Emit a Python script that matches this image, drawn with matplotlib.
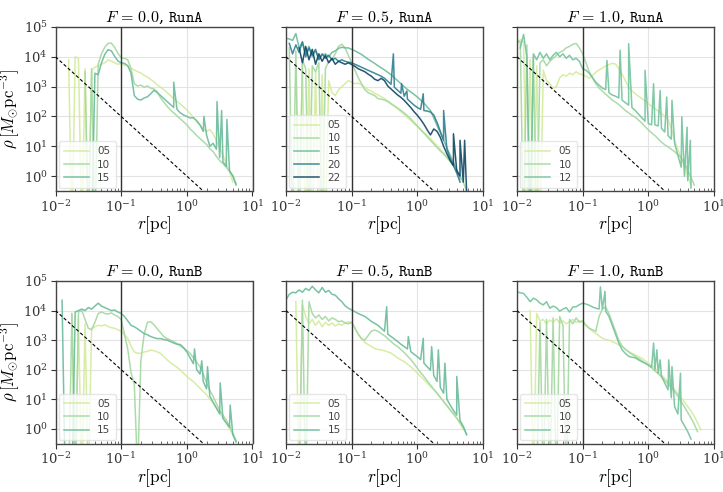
import numpy as np
import matplotlib
matplotlib.use('Agg')
import matplotlib.pyplot as plt
from matplotlib.ticker import LogLocator, NullLocator, NullFormatter

nan = float('nan')

# log10(r / pc) sampling grid
LOGR = [-2.00, -1.95, -1.90, -1.85, -1.80, -1.75, -1.70, -1.65, -1.60, -1.55,
        -1.50, -1.45, -1.40, -1.35, -1.30, -1.25, -1.20, -1.15, -1.10, -1.05,
        -1.00, -0.95, -0.90, -0.85, -0.80, -0.75, -0.70, -0.65, -0.60, -0.55,
        -0.50, -0.45, -0.40, -0.35, -0.30, -0.25, -0.20, -0.15, -0.10, -0.05,
        0.00, 0.05, 0.10, 0.15, 0.20, 0.25, 0.30, 0.35, 0.40, 0.45,
        0.50, 0.55, 0.60, 0.65, 0.70, 0.75, 0.80]

# log10(rho) profiles
A0_05 = [nan, nan, nan, nan, 3.9, -2, 4.0, 3.95, -2, 3.6,
         -2, 3.55, 3.65, 3.7, 3.75, 3.8, 3.9, 3.85, 3.8, 3.75,
         3.78, 3.72, 3.7, 3.62, 3.56, 3.5, 3.46, 3.38, 3.32, 3.24,
         3.16, 3.06, 2.98, 2.9, 2.8, 2.7, 2.6, 2.5, 2.42, 2.32,
         2.22, 2.1, 1.96, 1.82, 1.7, 1.58, 1.5, 1.56, 1.42, 1.18,
         0.95, 0.7, 0.42, 0.15, -0.2, nan, nan]
A0_10 = [nan, nan, nan, nan, nan, nan, nan, nan, nan, 3.5,
         -2, 3.6, -2, 3.75, 4.1, 4.32, 4.45, 4.46, 4.32, 4.12,
         3.97, 3.95, 3.9, 3.6, 3.1, 3.02, 3.05, 2.98, 3.02, 2.95,
         2.92, 2.82, 2.62, 2.48, 2.34, 2.22, 2.12, 2.02, 1.92, 1.82,
         1.72, 1.58, 1.48, 1.36, 1.26, 1.16, 1.06, 0.92, 0.82, 0.66,
         0.52, 0.42, 0.3, 0.16, 0.02, -0.25, nan]
A0_15 = [nan, nan, nan, nan, nan, nan, nan, nan, nan, nan,
         nan, -2, 3.45, 3.4, 3.8, 4.08, 4.24, 4.2, 4.02, 3.86,
         3.8, 3.78, 3.7, 3.45, 2.7, 2.58, 2.55, 2.62, 2.66, 2.76,
         2.88, 2.8, 2.7, 2.6, 2.5, 2.4, 2.3, 2.24, 2.12, 2.05,
         2.0, 1.95, 1.96, 1.86, 1.72, 1.5, 1.38, 1.0, 1.1, 0.9,
         0.62, 0.48, 0.32, 0.18, 0.0, -0.3, nan]

A1_05 = [nan, nan, nan, 3.7, -2, 3.75, -2, 3.6, -2, 3.5,
         -2, 3.4, -2, 3.2, 2.8, 2.7, 2.9, 3.0, 3.1, 3.2,
         3.15, 3.1, 3.12, 3.05, 2.98, 2.9, 2.85, 2.78, 2.72, 2.66,
         2.6, 2.52, 2.44, 2.36, 2.26, 2.16, 2.06, 1.96, 1.86, 1.76,
         1.66, 1.56, 1.46, 1.36, 1.26, 1.14, 1.02, 0.9, 0.78, 0.64,
         0.5, 0.35, 0.2, 0.02, -0.2, nan, nan]
A1_10 = [nan, 4.3, -2, 4.2, -2, 3.9, 3.6, -2, 3.7, 3.5,
         3.8, -2, 3.6, 3.85, 3.9, 4.1, 4.35, 4.42, 4.3, 4.05,
         3.8, 3.55, 3.3, 3.1, 2.9, 2.8, 2.75, 2.7, 2.6, 2.58,
         2.55, 2.5, 2.42, 2.35, 2.28, 2.2, 2.12, 2.02, 1.92, 1.8,
         1.68, 1.56, 1.44, 1.32, 1.2, 1.08, 0.96, 0.84, 0.74, 0.62,
         0.5, 0.35, 0.2, 0.0, -0.2, -0.5, nan]
A1_15 = [4.62, 4.6, 4.55, 4.78, 4.3, 4.5, 4.1, 4.35, 4.0, 4.2,
         3.95, 4.05, 4.1, 4.0, 4.15, 4.2, 4.28, 4.32, 4.3, 4.3,
         4.25, 4.2, 4.14, 4.08, 4.0, 3.92, 3.85, 3.78, 3.7, 3.63,
         3.56, 3.48, 3.4, 3.3, 3.2, 3.1, 3.0, 2.9, 2.82, 2.74,
         2.65, 2.55, 2.45, 2.32, 2.2, 1.95, 1.7, 1.45, 1.2, 0.95,
         0.7, 0.45, 0.2, -0.1, nan, nan, nan]
A1_20 = [nan, 4.45, 4.1, 4.4, 4.15, 4.5, 4.0, 4.3, 4.05, 4.25,
         3.9, 4.1, 3.95, 4.05, 3.9, 3.95, 3.85, 3.9, 3.85, 3.82,
         3.8, 3.75, 3.7, 3.65, 3.6, 3.55, 3.5, 3.45, 3.4, 3.35,
         3.28, 3.18, 3.08, 2.98, 2.88, 2.78, 2.68, 2.58, 2.48, 2.38,
         2.3, 2.24, 2.2, 2.18, 2.15, 2.05, 1.8, 1.5, 1.2, 0.9,
         0.6, 0.35, 0.1, -0.2, nan, nan, nan]
A1_22 = [nan, nan, nan, nan, 4.3, 3.8, 4.35, 3.9, 4.25, 3.75,
         4.1, 3.85, 4.05, 3.8, 3.95, 3.75, 3.85, 3.8, 3.75, 3.8,
         3.74, 3.68, 3.6, 3.55, 3.5, 3.42, 3.35, 3.25, 3.2, 3.28,
         3.2, 3.02, 2.92, 2.82, 2.72, 2.64, 2.54, 2.42, 2.3, 2.16,
         2.04, 1.9, 1.74, 1.55, 1.38, 1.58, 1.5, 1.3, 1.0, 0.75,
         0.52, 0.35, 0.18, 0.0, -0.2, -0.5, nan]

A2_05 = [4.4, 4.58, 4.5, -2, 3.9, -2, 3.7, -2, 3.55, 3.2,
         3.1, 2.95, 3.0, 3.3, 3.4, 3.35, 3.45, 3.4, 3.5, 3.42,
         3.4, 3.35, 3.28, 3.38, 3.48, 3.56, 3.62, 3.7, 3.74, 3.78,
         3.76, 3.6, 3.42, 3.2, 2.98, 2.86, 2.76, 2.68, 2.6, 2.52,
         2.44, 2.34, 2.26, 2.18, 2.1, 2.0, 1.9, 1.6, 1.2, 0.9,
         0.6, 0.3, 0.0, -0.3, nan, nan, nan]
A2_10 = [4.55, 4.5, -2, 4.4, -2, 4.0, -2, 3.8, 3.9, 3.7,
         3.85, 3.95, 4.05, 4.15, 4.2, 4.3, 4.35, 4.42, 4.45, 4.3,
         4.1, 3.8, 3.5, 3.3, 3.1, 2.95, 2.85, 2.75, 2.65, 2.55,
         2.48, 2.4, 2.3, 2.2, 2.12, 2.04, 1.98, 1.88, 1.78, 1.66,
         1.55, 1.45, 1.36, 1.25, 1.14, 1.05, 0.98, 0.9, 0.82, 0.72,
         0.62, 0.42, 0.2, -0.05, -0.3, nan, nan]
A2_12 = [nan, 4.3, 4.75, 4.0, -2, 4.1, 3.9, 4.15, 3.95, 4.1,
         3.9, 4.05, 4.15, 4.0, 4.1, 3.95, 4.05, 3.9, 3.95, 3.85,
         3.6, 3.55, 3.45, 3.3, 3.15, 3.05, 2.95, 2.9, 2.8, 2.72,
         2.68, 2.62, 2.55, 2.46, 2.38, 2.3, 2.2, 2.08, 1.96, 1.84,
         1.76, 1.72, 1.72, 1.68, 1.6, 1.48, 1.36, 1.24, 1.1, 0.7,
         0.3, 0.0, -0.15, -0.4, nan, nan, nan]

B0_05 = [nan, nan, nan, nan, nan, 3.9, -2, 3.7, -2, 3.55,
         -2, 3.4, 3.45, 3.5, 3.48, 3.52, 3.46, 3.42, 3.4, 3.35,
         3.3, 3.18, 3.06, 2.8, 2.6, 2.55, 2.56, 2.6, 2.62, 2.66,
         2.64, 2.6, 2.55, 2.44, 2.33, 2.24, 2.16, 2.08, 1.99, 1.88,
         1.77, 1.68, 1.6, 1.48, 1.37, 1.26, 1.15, 1.0, 0.87, 0.7,
         0.53, 0.36, 0.19, 0.0, -0.2, nan, nan]
B0_10 = [nan, nan, nan, nan, -2, 3.9, -2, 3.95, 4.0, 3.7,
         3.4, 3.35, 3.6, 3.9, 3.95, 3.9, 3.88, 3.92, 3.85, 3.8,
         3.7, 3.2, 2.7, 1.9, 1.5, -1.5, 2.3, 3.2, 3.6, 3.62,
         3.52, 3.38, 3.25, 3.12, 3.05, 3.0, 2.95, 2.88, 2.8, 2.72,
         2.65, 2.55, 2.4, 2.25, 2.1, 1.85, 1.55, 1.3, 1.1, 0.85,
         0.62, 0.45, 0.3, 0.1, -0.15, -0.4, nan]
B0_15 = [nan, nan, 4.35, -2, nan, -2, 3.95, 4.0, 4.05, 4.0,
         4.1, 4.05, 4.15, 4.25, 4.15, 4.1, 4.05, 4.0, 4.02, 3.95,
         3.9, 3.8, 3.65, 3.5, 3.45, 3.38, 3.3, 3.22, 3.18, 3.12,
         3.08, 3.05, 3.05, 3.02, 3.0, 2.95, 2.9, 2.86, 2.85, 2.75,
         2.6, 2.4, 2.2, 2.0, 1.85, 1.6, 1.35, 1.1, 0.9, 0.7,
         0.5, 0.35, 0.2, 0.05, -0.2, -0.45, nan]

B1_05 = [nan, nan, nan, 4.3, -2, 4.2, 3.8, 3.55, 3.7, 3.5,
         3.65, 3.45, 3.6, 3.5, 3.58, 3.48, 3.55, 3.5, 3.58, 3.62,
         3.6, 3.4, 3.2, 3.05, 2.92, 2.85, 2.78, 2.72, 2.68, 2.67,
         2.64, 2.6, 2.56, 2.48, 2.4, 2.33, 2.27, 2.18, 2.1, 1.99,
         1.88, 1.77, 1.66, 1.55, 1.43, 1.32, 1.2, 1.06, 0.92, 0.78,
         0.64, 0.5, 0.36, 0.18, -0.03, nan, nan]
B1_10 = [nan, nan, nan, nan, -2, 4.35, -2, 4.3, 3.9, 3.75,
         3.85, 3.7, 3.8, 3.65, 3.75, 3.7, 3.62, 3.65, 3.58, 3.55,
         3.6, 3.4, 3.2, 3.05, 3.0, 3.15, 3.3, 3.34, 3.3, 3.22,
         3.15, 3.05, 2.95, 2.85, 2.78, 2.68, 2.58, 2.46, 2.34, 2.2,
         2.05, 1.9, 1.77, 1.62, 1.48, 1.34, 1.2, 1.06, 0.92, 0.78,
         0.64, 0.5, 0.36, 0.2, 0.05, -0.2, nan]
B1_15 = [4.36, 4.55, 4.62, 4.6, 4.7, 4.62, 4.75, 4.68, 4.82, 4.7,
         4.6, 4.78, 4.62, 4.68, 4.55, 4.52, 4.4, 4.3, 4.16, 4.08,
         4.02, 3.96, 3.9, 3.85, 3.8, 3.72, 3.63, 3.57, 3.5, 3.4,
         3.3, 3.2, 3.12, 3.04, 2.95, 2.86, 2.78, 2.7, 2.61, 2.52,
         2.44, 2.34, 2.22, 2.1, 1.98, 1.8, 1.6, 1.4, 1.2, 1.0,
         0.8, 0.62, 0.46, 0.28, 0.08, -0.2, nan]

B2_05 = [nan, nan, nan, nan, 4.0, -2, 3.9, 3.65, 3.7, 3.55,
         3.68, 3.6, 3.72, 3.58, 3.65, 3.55, 3.62, 3.7, 3.6, 3.66,
         3.62, 3.5, 3.4, 3.3, 3.23, 3.14, 3.06, 3.02, 3.0, 2.95,
         2.9, 2.84, 2.78, 2.7, 2.61, 2.55, 2.5, 2.44, 2.39, 2.3,
         2.22, 2.14, 2.05, 1.94, 1.82, 1.71, 1.6, 1.46, 1.32, 1.18,
         1.04, 0.9, 0.75, 0.6, 0.42, 0.2, -0.03]
B2_10 = [nan, nan, nan, nan, nan, nan, -2, 3.6, -2, 3.7,
         -2, 3.75, -2, 3.8, 3.5, -2, 3.7, 3.55, 3.75, 3.6,
         3.65, 3.5, 3.4, 3.35, 3.3, 3.8, 4.05, 4.12, 3.9, 3.6,
         3.3, 3.0, 2.8, 2.68, 2.6, 2.52, 2.45, 2.38, 2.3, 2.22,
         2.15, 2.06, 1.96, 1.86, 1.76, 1.64, 1.52, 1.4, 1.26, 1.1,
         0.92, 0.74, 0.55, 0.36, 0.15, -0.1, nan]
B2_12 = [4.64, 4.6, 4.58, 4.45, 4.3, 4.42, 4.36, 4.25, 4.19, 4.3,
         4.08, 4.15, 4.1, 3.98, 4.05, 4.1, 3.95, 4.12, 4.13, 4.2,
         4.25, 4.22, 4.18, 4.12, 4.08, 4.05, 4.05, 3.98, 3.8, 3.5,
         3.2, 2.9, 2.67, 2.55, 2.45, 2.42, 2.4, 2.33, 2.27, 2.22,
         2.16, 2.08, 1.99, 1.88, 1.77, 1.55, 1.32, 1.05, 0.75, 0.5,
         0.3, 0.1, -0.1, -0.35, nan, nan, nan]

# isolated spikes (log10 r, log10 rho)
SPK_A0_R = [-0.20, 0.26, 0.46, 0.53, 0.61]
SPK_A0_V = [3.15, 2.0, 2.5, 2.2, 1.9]
SPK_A1_R = [-0.365, -0.24, -0.16, 0.09, 0.40]
SPK_A1_V = [4.1, 3.1, 2.85, 2.76, 2.2]
SPK_A1B_R = [0.55, 0.65, 0.72]
SPK_A1B_V = [1.42, 1.2, 1.2]
SPK_A2_R = [-0.63, -0.43, -0.30, -0.05, 0.08, 0.18, 0.28, 0.36, 0.51, 0.59, 0.64]
SPK_A2_V = [3.88, 4.22, 4.44, 3.55, 3.1, 2.87, 2.65, 2.54, 1.98, 1.64, 1.2]
SPK_B0_R = [0.117, 0.228, 0.315, 0.508, 0.66]
SPK_B0_V = [2.7, 2.3, 2.1, 1.55, 0.8]
SPK_B1_R = [-0.467, -0.137, 0.09, 0.218, 0.32, 0.42, 0.6]
SPK_B1_V = [4.13, 3.12, 3.06, 2.78, 2.67, 2.22, 1.77]
SPK_B2_R = [-0.73, -0.66, 0.08, 0.13, 0.18, 0.31, 0.36, 0.49]
SPK_B2_V = [4.8, 4.65, 2.9, 2.67, 2.33, 2.33, 2.1, 1.88]

F_VALUES = ['0.0', '0.5', '1.0']
RUNS = ['RunA', 'RunB']
COLORS = {'05': '#d3eb9b', '10': '#a3d8a0', '12': '#72c29c', '15': '#6abb9b',
          '20': '#2d7f90', '22': '#0e4564'}
R_CUT = 0.1
REF_R = [0.01, 10.0]
REF_RHO0 = 1e4   # rho at r = 0.01 pc, slope -2

PANELS = [
    [[('05', A0_05, None, None), ('10', A0_10, None, None), ('15', A0_15, SPK_A0_R, SPK_A0_V)],
     [('05', A1_05, None, None), ('10', A1_10, None, None), ('15', A1_15, None, None),
      ('20', A1_20, SPK_A1_R, SPK_A1_V), ('22', A1_22, SPK_A1B_R, SPK_A1B_V)],
     [('05', A2_05, None, None), ('10', A2_10, None, None), ('12', A2_12, SPK_A2_R, SPK_A2_V)]],
    [[('05', B0_05, None, None), ('10', B0_10, None, None), ('15', B0_15, SPK_B0_R, SPK_B0_V)],
     [('05', B1_05, None, None), ('10', B1_10, None, None), ('15', B1_15, SPK_B1_R, SPK_B1_V)],
     [('05', B2_05, None, None), ('10', B2_10, None, None), ('12', B2_12, SPK_B2_R, SPK_B2_V)]],
]

plt.rcParams.update({
    'font.family': 'serif',
    'font.serif': ['DejaVu Serif'],
    'mathtext.fontset': 'cm',
})

W, H = 723, 492
fig = plt.figure(figsize=(W / 100, H / 100), dpi=100)
lefts = [55.5, 286.0, 517.0]
tops = [27.0, 281.0]
heights = [164.0, 162.5]
aw = 197.0

for row in range(2):
    for col in range(3):
        l, t, h = lefts[col], tops[row], heights[row]
        ax = fig.add_axes([l / W, 1 - (t + h) / H, aw / W, h / H])
        ax.set_xscale('log')
        ax.set_yscale('log')
        for lab, vals, sr, sv in PANELS[row][col]:
            assert len(vals) == len(LOGR), (row, col, lab, len(vals))
            lr = list(LOGR)
            lv = list(vals)
            if sr is not None:
                lr += sr
                lv += sv
            order = np.argsort(lr, kind='stable')
            r = 10 ** np.array(lr)[order]
            v = 10 ** np.array(lv, dtype=float)[order]
            ax.plot(r, v, color=COLORS[lab], lw=1.1, alpha=0.9, label=lab)
        ax.axvline(R_CUT, color='#333333', lw=1.0, zorder=3)
        rr = np.array(REF_R)
        ax.plot(rr, REF_RHO0 * (rr / REF_R[0]) ** -2, color='black', lw=0.8,
                ls=(0, (3, 2)), zorder=3)
        ax.set_xlim(1e-2, 1e1)
        ax.set_ylim(10 ** -0.5, 1e5)
        ax.xaxis.set_major_locator(LogLocator(base=10, numticks=10))
        ax.xaxis.set_minor_locator(LogLocator(base=10, subs=np.arange(2, 10), numticks=20))
        ax.xaxis.set_minor_formatter(NullFormatter())
        ax.yaxis.set_major_locator(LogLocator(base=10, numticks=10))
        ax.yaxis.set_minor_locator(NullLocator())
        ax.grid(True, which='major', color='#e3e3e3', lw=0.8)
        ax.set_axisbelow(True)
        for sp in ax.spines.values():
            sp.set_color('#444444')
            sp.set_linewidth(1.0)
        ax.tick_params(which='major', direction='out', length=3.5, width=0.8,
                       labelsize=9.5, pad=2, colors='#333333', labelcolor='#333333')
        ax.tick_params(axis='x', which='minor', direction='in', length=2.5, width=0.6,
                       colors='#555555')
        if col > 0:
            ax.tick_params(labelleft=False)
        else:
            ax.set_ylabel(r'$\rho\,[M_{\odot}\mathrm{pc}^{-3}]$', fontsize=12, labelpad=1)
        ax.set_xlabel(r'$r[\mathrm{pc}]$', fontsize=12.5, labelpad=0)
        ax.set_title(r'$F\,=\,%s$, $\mathtt{%s}$' % (F_VALUES[col], RUNS[row]),
                     fontsize=11.5, pad=4)
        leg = ax.legend(loc='lower left', prop={'family': 'DejaVu Sans', 'size': 7.5},
                        frameon=True, framealpha=0.8, edgecolor='#e0e0e0',
                        fancybox=True, handlelength=2.4, labelspacing=0.3,
                        borderaxespad=0.3, borderpad=0.5)
        for txt in leg.get_texts():
            txt.set_color('#444444')

fig.savefig('out.png', dpi=100)
